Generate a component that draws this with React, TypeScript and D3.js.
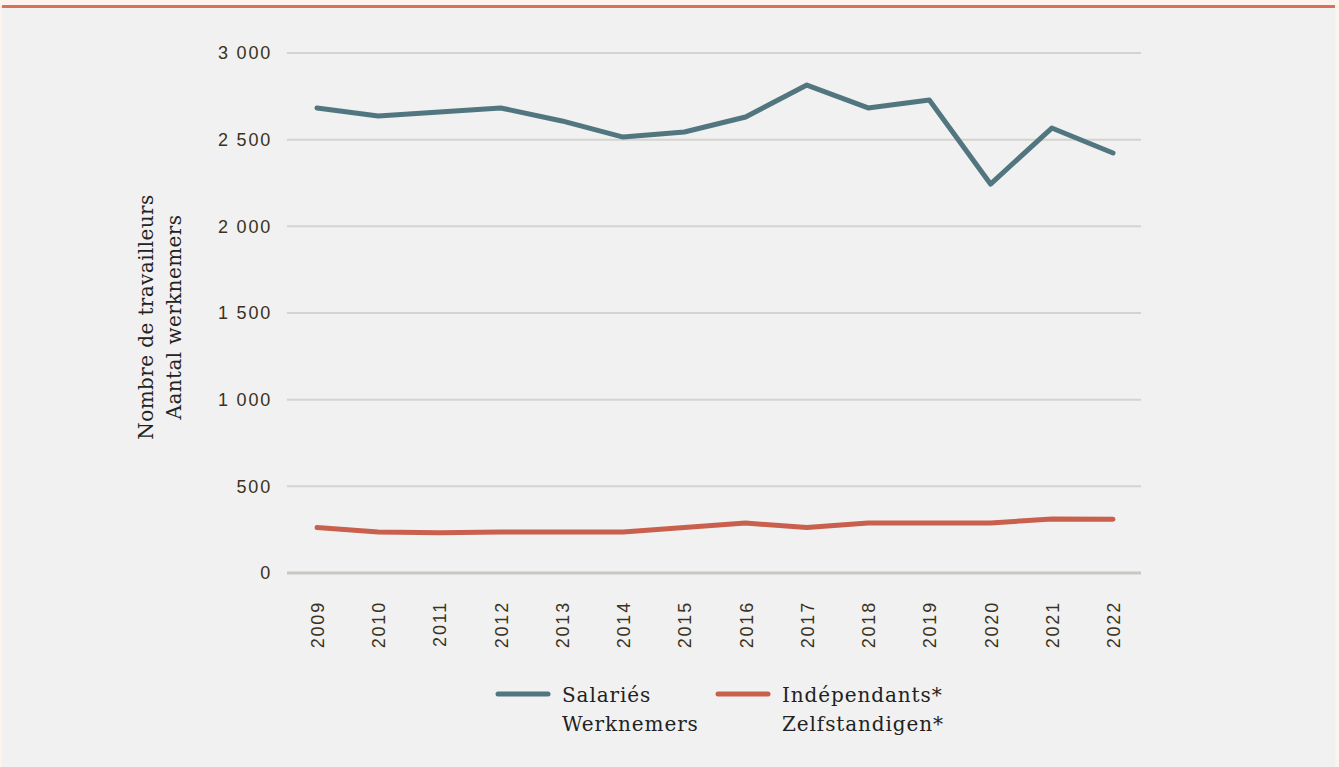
import React from "react";
import * as d3 from "d3";

const years = [2009, 2010, 2011, 2012, 2013, 2014, 2015, 2016, 2017, 2018, 2019, 2020, 2021, 2022];
const salaries = [2683, 2637, 2660, 2683, 2608, 2515, 2544, 2631, 2815, 2683, 2729, 2244, 2567, 2423];
const independants = [262, 237, 232, 237, 237, 237, 262, 288, 262, 288, 288, 288, 312, 310];
const yTicks = [0, 500, 1000, 1500, 2000, 2500, 3000];
const yTickLabels = ["0", "500", "1 000", "1 500", "2 000", "2 500", "3 000"];
const yTitle = ["Nombre de travailleurs", "Aantal werknemers"];
const series = [
  { name: ["Salariés", "Werknemers"], values: salaries, color: "#52767f" },
  { name: ["Indépendants*", "Zelfstandigen*"], values: independants, color: "#c9604e" },
];

const W = 1339;
const H = 767;
const plot = { left: 287, right: 1141, top: 53, bottom: 573 };

export default function App() {
  const x = d3.scalePoint<number>().domain(years).range([317, 1113]);
  const y = d3.scaleLinear().domain([0, 3000]).range([plot.bottom, plot.top]);
  const line = (vals: number[]) =>
    d3.line<number>().x((_, i) => x(years[i]) as number).y((v) => y(v))(vals) || "";
  const sans = "'Liberation Sans', Arial, sans-serif";
  const serif = "'DejaVu Serif', serif";
  const legendX = [498, 718];

  return (
    <svg
      width={W}
      height={H}
      style={{ position: "absolute", left: 0, top: 0, display: "block" }}
    >
      <rect x={0} y={0} width={W} height={H} fill="#fdf3ee" />
      <rect x={2} y={5} width={1333} height={H - 5} fill="#f0f1f0" />
      <rect x={2} y={5} width={1333} height={3} fill="#d9705a" />

      {yTicks.map((t, i) => (
        <g key={t}>
          <line
            x1={plot.left}
            x2={plot.right}
            y1={y(t)}
            y2={y(t)}
            stroke={t === 0 ? "#c9c7c3" : "#d5d3cf"}
            strokeWidth={t === 0 ? 3 : 2}
          />
          <text
            x={272}
            y={y(t)}
            dy="0.36em"
            textAnchor="end"
            fontFamily={sans}
            fontSize={18}
            letterSpacing={1.8}
            fill="#3a3220"
          >
            {yTickLabels[i]}
          </text>
        </g>
      ))}

      {years.map((yr) => (
        <text
          key={yr}
          transform={`translate(${(x(yr) as number) + 7},${601}) rotate(-90)`}
          textAnchor="end"
          fontFamily={sans}
          fontSize={18}
          letterSpacing={1.8}
          fill="#3a3220"
        >
          {yr}
        </text>
      ))}

      <g transform={`translate(153,${317}) rotate(-90)`}>
        <text textAnchor="middle" fontFamily={serif} fontSize={20} letterSpacing={0.4} fill="#222">
          {yTitle[0]}
        </text>
        <text y={28} textAnchor="middle" fontFamily={serif} fontSize={20} letterSpacing={0.4} fill="#222">
          {yTitle[1]}
        </text>
      </g>

      {series.map((s) => (
        <path
          key={s.color}
          d={line(s.values)}
          fill="none"
          stroke={s.color}
          strokeWidth={5}
          strokeLinecap="round"
          strokeLinejoin="round"
        />
      ))}

      {series.map((s, i) => (
        <g key={"lg" + i} transform={`translate(${legendX[i]},694)`}>
          <line x1={0} x2={50} y1={0} y2={0} stroke={s.color} strokeWidth={5} strokeLinecap="round" />
          <text x={64} y={8} fontFamily={serif} fontSize={20} letterSpacing={0.9} fill="#222">
            {s.name[0]}
          </text>
          <text x={64} y={37} fontFamily={serif} fontSize={20} letterSpacing={0.9} fill="#222">
            {s.name[1]}
          </text>
        </g>
      ))}
    </svg>
  );
}
